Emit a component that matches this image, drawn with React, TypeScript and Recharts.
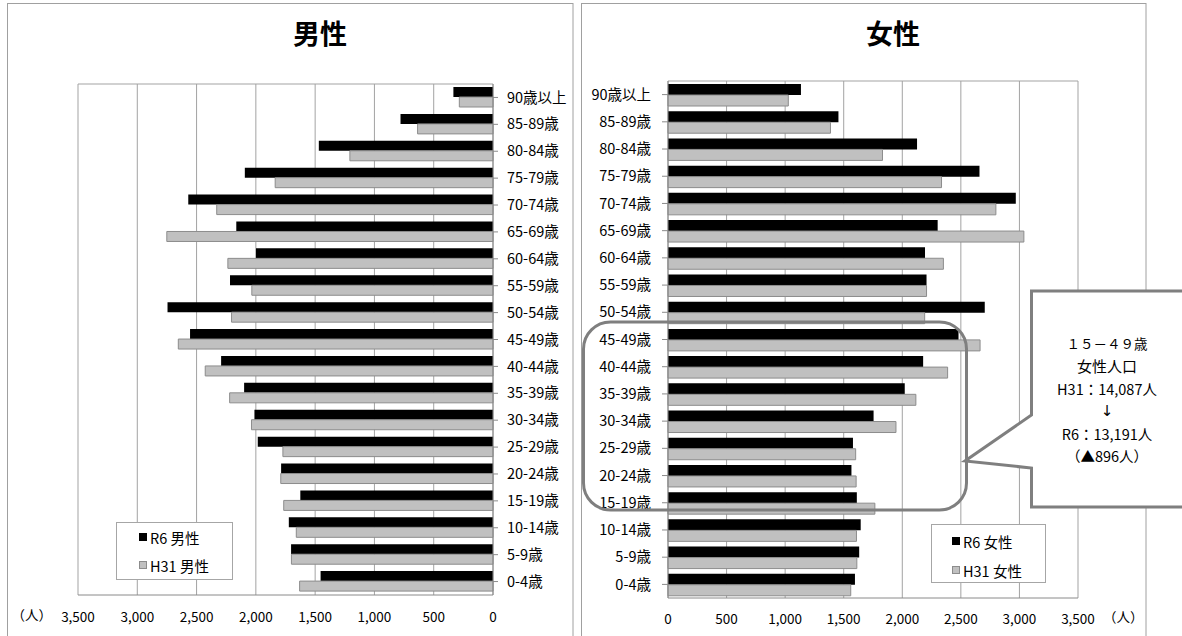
import React from 'react';
import { BarChart, Bar, XAxis, YAxis, CartesianGrid, Legend } from 'recharts';

const FONT = '"Noto Sans CJK JP", "Noto Sans", sans-serif';

// Age groups, top of the pyramid first
const ageGroups = [
  '90歳以上', '85-89歳', '80-84歳', '75-79歳', '70-74歳', '65-69歳', '60-64歳',
  '55-59歳', '50-54歳', '45-49歳', '40-44歳', '35-39歳', '30-34歳', '25-29歳',
  '20-24歳', '15-19歳', '10-14歳', '5-9歳', '0-4歳',
];

const maleR6 = [334, 780, 1469, 2093, 2570, 2165, 1999, 2218, 2745, 2555, 2293, 2099, 2012, 1984, 1787, 1625, 1722, 1703, 1454];
const maleH31 = [284, 636, 1207, 1837, 2330, 2751, 2236, 2034, 2205, 2654, 2427, 2221, 2037, 1772, 1790, 1765, 1659, 1700, 1631];
const femaleR6 = [1135, 1455, 2126, 2659, 2969, 2302, 2194, 2207, 2704, 2480, 2178, 2021, 1755, 1579, 1566, 1612, 1645, 1632, 1596];
const femaleH31 = [1027, 1387, 1831, 2335, 2799, 3038, 2351, 2207, 2191, 2664, 2387, 2116, 1946, 1602, 1606, 1766, 1609, 1612, 1560];

const axisTicks = [0, 500, 1000, 1500, 2000, 2500, 3000, 3500];

const maleNames = ['R6 男性', 'H31 男性'];
const femaleNames = ['R6 女性', 'H31 女性'];

// Child-bearing age groups (15-49) used for the summary box
const focusGroups = ['45-49歳', '40-44歳', '35-39歳', '30-34歳', '25-29歳', '20-24歳', '15-19歳'];

const maleData = ageGroups.map((age, i) => ({ age, r6: maleR6[i], h31: maleH31[i] }));
const femaleData = ageGroups.map((age, i) => ({ age, r6: femaleR6[i], h31: femaleH31[i] }));

const sumFocus = (values: number[]) =>
  ageGroups.reduce((acc, age, i) => (focusGroups.includes(age) ? acc + values[i] : acc), 0);
const focusH31 = sumFocus(femaleH31);
const focusR6 = sumFocus(femaleR6);

const GRID = '#a3a3a3';
const AXIS = '#8a8a8a';
const BLACK = '#000000';
const GRAY = '#c0c0c0';
const GRAY_EDGE = '#8c8c8c';

const fmt = (v: number) => v.toLocaleString('en-US');

const topBorder = ({ offset }: any) => [offset.top];

type LegendLayout = { padLeft: number; rows: number[]; width: number; height: number; order: string[] };

function LegendBox({ payload, layout }: { payload?: any[]; layout: LegendLayout }) {
  const items = [...(payload || [])].sort(
    (a: any, b: any) => layout.order.indexOf(a.value) - layout.order.indexOf(b.value),
  );
  return (
    <div
      style={{
        position: 'relative',
        width: layout.width,
        height: layout.height,
        boxSizing: 'border-box',
        border: '1px solid #a6a6a6',
        background: '#fff',
        fontFamily: FONT,
        fontSize: 14.5,
        color: '#000',
      }}
    >
      {items.map((entry: any, i: number) => (
        <div
          key={entry.value}
          style={{
            position: 'absolute',
            left: layout.padLeft,
            top: layout.rows[i] - 10,
            height: 20,
            display: 'flex',
            alignItems: 'center',
            whiteSpace: 'nowrap',
          }}
        >
          <span
            style={{
              display: 'inline-block',
              width: 8,
              height: 8,
              boxSizing: 'border-box',
              background: entry.color,
              border: `1px solid ${entry.color === BLACK ? BLACK : GRAY_EDGE}`,
              marginRight: 3,
            }}
          />
          <span>{entry.value}</span>
        </div>
      ))}
    </div>
  );
}

const tickStyle = { fontSize: 13.5, fill: '#000', fontFamily: FONT };
const catStyle = { fontSize: 14.5, fill: '#000', fontFamily: FONT };

function MaleChart() {
  return (
    <BarChart
      width={580}
      height={636}
      data={maleData}
      layout="vertical"
      margin={{ top: 84, right: 0, bottom: 0, left: 78 }}
      barCategoryGap={3}
      barGap={0}
    >
      <CartesianGrid stroke={GRID} vertical horizontal horizontalCoordinatesGenerator={topBorder} />
      <XAxis
        type="number"
        domain={[0, 3500]}
        ticks={axisTicks}
        reversed
        height={41}
        interval={0}
        tickFormatter={fmt}
        tickLine={false}
        tickSize={6}
        tickMargin={11}
        axisLine={{ stroke: AXIS }}
        tick={tickStyle}
        label={{ value: '（人）', position: 'left', offset: 26, fontSize: 13.5, fill: '#000', fontFamily: FONT }}
      />
      <YAxis
        type="category"
        dataKey="age"
        orientation="right"
        width={87}
        interval={0}
        tickSize={5}
        tickMargin={9}
        axisLine={{ stroke: AXIS }}
        tickLine={{ stroke: AXIS }}
        tick={catStyle}
      />
      <Legend
        layout="vertical"
        align="center"
        verticalAlign="middle"
        wrapperStyle={{ left: 116, top: 522, width: 117, height: 58 }}
        content={(props: any) => (
          <LegendBox
            payload={props.payload}
            layout={{ padLeft: 22, rows: [14, 42], width: 117, height: 58, order: maleNames }}
          />
        )}
      />
      <Bar dataKey="r6" name={maleNames[0]} fill={BLACK} isAnimationActive={false} />
      <Bar dataKey="h31" name={maleNames[1]} fill={GRAY} stroke={GRAY_EDGE} strokeWidth={1} isAnimationActive={false} />
    </BarChart>
  );
}

function FemaleChart() {
  return (
    <BarChart
      width={602}
      height={636}
      data={femaleData}
      layout="vertical"
      margin={{ top: 81, right: 104, bottom: 0, left: 0 }}
      barCategoryGap={3}
      barGap={0}
    >
      <CartesianGrid stroke={GRID} vertical horizontal horizontalCoordinatesGenerator={topBorder} />
      <XAxis
        type="number"
        domain={[0, 3500]}
        ticks={axisTicks}
        height={38}
        interval={0}
        tickFormatter={fmt}
        tickLine={false}
        tickSize={6}
        tickMargin={10}
        axisLine={{ stroke: AXIS }}
        tick={tickStyle}
        label={{ value: '（人）', position: 'right', offset: 25, fontSize: 13.5, fill: '#000', fontFamily: FONT }}
      />
      <YAxis
        type="category"
        dataKey="age"
        width={88}
        interval={0}
        tickSize={6}
        tickMargin={11}
        axisLine={{ stroke: AXIS }}
        tickLine={{ stroke: AXIS }}
        tick={catStyle}
      />
      <Legend
        layout="vertical"
        align="center"
        verticalAlign="middle"
        wrapperStyle={{ left: 351, top: 524, width: 115, height: 59 }}
        content={(props: any) => (
          <LegendBox
            payload={props.payload}
            layout={{ padLeft: 20, rows: [16, 45], width: 115, height: 59, order: femaleNames }}
          />
        )}
      />
      <Bar dataKey="r6" name={femaleNames[0]} fill={BLACK} isAnimationActive={false} />
      <Bar dataKey="h31" name={femaleNames[1]} fill={GRAY} stroke={GRAY_EDGE} strokeWidth={1} isAnimationActive={false} />
    </BarChart>
  );
}

const calloutLines = [
  { text: '１５－４９歳', y: 343, size: 13.5, font: FONT },
  { text: '女性人口', y: 365.5, size: 15, font: FONT },
  { text: `H31：${fmt(focusH31)}人`, y: 388, size: 14.5, font: FONT },
  { text: '↓', y: 411, size: 15, font: '"DejaVu Sans", sans-serif' },
  { text: `R6：${fmt(focusR6)}人`, y: 433, size: 14.5, font: FONT },
  { text: `（▲${fmt(focusH31 - focusR6)}人）`, y: 455, size: 14.5, font: FONT },
];

export default function App() {
  return (
    <div
      style={{
        position: 'absolute',
        left: 0,
        top: 0,
        width: 1182,
        height: 636,
        overflow: 'hidden',
        background: '#fff',
        fontFamily: FONT,
      }}
    >
      {/* panel frames and titles */}
      <svg width={1182} height={636} style={{ position: 'absolute', left: 0, top: 0 }}>
        <rect x={7.5} y={3.5} width={565.5} height={700} fill="none" stroke="#a0a0a0" />
        <rect x={581.5} y={3.5} width={564.5} height={700} fill="none" stroke="#a0a0a0" />
        <text x={320} y={32} textAnchor="middle" dominantBaseline="central" fontSize={27} fontWeight="bold" fontFamily={FONT}>
          男性
        </text>
        <text x={893} y={32} textAnchor="middle" dominantBaseline="central" fontSize={27} fontWeight="bold" fontFamily={FONT}>
          女性
        </text>
      </svg>

      <div style={{ position: 'absolute', left: 0, top: 0 }}>
        <MaleChart />
      </div>
      <div style={{ position: 'absolute', left: 580, top: 0 }}>
        <FemaleChart />
      </div>

      {/* highlight of the 15-49 age band and its summary callout */}
      <svg width={1182} height={636} style={{ position: 'absolute', left: 0, top: 0, pointerEvents: 'none' }}>
        <rect x={583.5} y={322} width={383} height={188} rx={27} ry={27} fill="none" stroke="#7f7f7f" strokeWidth={3} />
        <path
          d="M1031.5 291 H1195 V507 H1031.5 V468 L965 461 L1031.5 415 Z"
          fill="#fff"
          stroke="#7f7f7f"
          strokeWidth={3}
        />
        {calloutLines.map((l) => (
          <text
            key={l.text}
            x={1107}
            y={l.y}
            textAnchor="middle"
            dominantBaseline="central"
            fontSize={l.size}
            fontFamily={l.font}
            fill="#000"
          >
            {l.text}
          </text>
        ))}
      </svg>
    </div>
  );
}
